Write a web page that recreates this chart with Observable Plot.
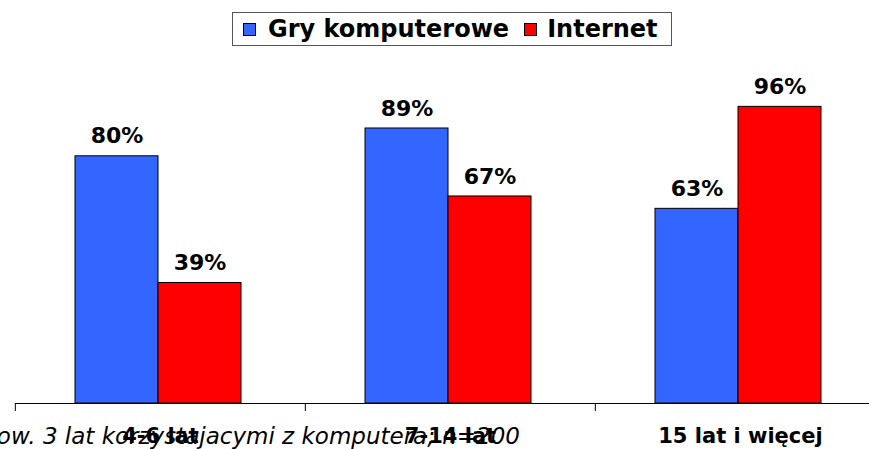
<!DOCTYPE html>
<html>
<head>
<meta charset="utf-8">
<script src="https://cdn.jsdelivr.net/npm/d3@7"></script>
<script src="https://cdn.jsdelivr.net/npm/@observablehq/plot@0.6"></script>
<style>
  html, body { margin: 0; padding: 0; background: #fff; }
  #wrap { position: relative; width: 869px; height: 449px; overflow: hidden; font-family: "DejaVu Sans", Verdana, sans-serif; }
  #chart { position: absolute; left: 0; top: 0; }
  #legend { position: absolute; left: 232px; top: 12px; width: 438px; height: 32px; border: 1px solid #555; display: flex; align-items: center; box-sizing: content-box; font-weight: bold; font-size: 24px; color: #000; }
  .sw { display: inline-block; width: 11px; height: 11px; border: 1px solid #000; }
  #caption { position: absolute; right: 349px; top: 423px; white-space: nowrap; font-style: italic; font-size: 23px; color: #000; }
</style>
</head>
<body>
<div id="wrap">
  <div id="caption"></div>
  <div id="chart"></div>
  <div id="legend"></div>
</div>
<script>
const categories = ["4-6 lat", "7-14 lat", "15 lat i więcej"];
const series = ["Gry komputerowe", "Internet"];
const gry = [80, 89, 63];
const internet = [39, 67, 96];
const colors = ["#3366FF", "#FF0000"];
const captionText = "ow. 3 lat korzystajacymi z komputera; n=200";

const data = categories.flatMap((c, i) => [
  {cat: c, s: series[0], v: gry[i]},
  {cat: c, s: series[1], v: internet[i]}
]);

const W = 869, left = 14, right = 885;
const band = (right - left) / categories.length;

const chart = Plot.plot({
  width: W,
  height: 449,
  marginTop: 94,
  marginBottom: 46,
  marginLeft: left,
  marginRight: W - right,
  style: {fontFamily: "DejaVu Sans, Verdana, sans-serif", background: "transparent", overflow: "visible"},
  fx: {domain: categories, range: [left, right], padding: 0, label: null},
  x: {domain: series, paddingInner: 0, paddingOuter: 0.745, align: 0.485, axis: null},
  y: {domain: [0, 100], axis: null},
  color: {domain: series, range: colors},
  marks: [
    Plot.barY(data, {fx: "cat", x: "s", y: "v", fill: "s", stroke: "#000", strokeWidth: 1}),
    Plot.text(data, {fx: "cat", x: "s", y: "v", text: d => d.v + "%", dy: -20, fontSize: 22, fontWeight: "bold", fill: "#000"}),
    Plot.ruleY([0], {stroke: "#000", strokeWidth: 1}),
    Plot.axisFx({anchor: "bottom", tickSize: 8, tickFormat: () => "", dx: -band / 2, stroke: "#000", label: null}),
    Plot.axisFx({anchor: "bottom", tickSize: 0, tickPadding: 25, fontSize: 21, fontWeight: "bold", fill: "#000", label: null})
  ]
});
document.getElementById("chart").appendChild(chart);

const legend = document.getElementById("legend");
legend.innerHTML = series.map((s, i) =>
  `<span class="sw" style="background:${colors[i]};margin-left:${i === 0 ? 10 : 15}px;margin-right:${i === 0 ? 12 : 10}px"></span><span>${s}</span>`
).join("");
document.getElementById("caption").textContent = captionText;
</script>
</body>
</html>
